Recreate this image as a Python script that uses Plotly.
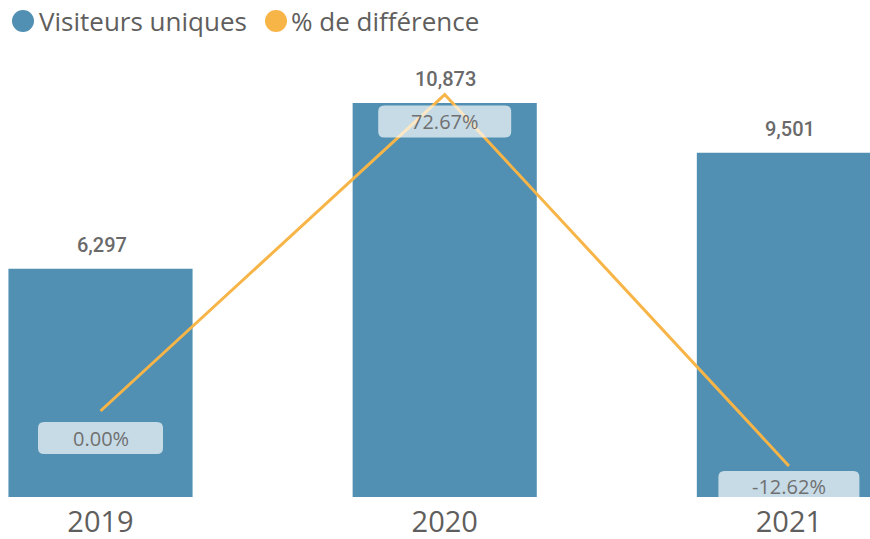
import plotly.graph_objects as go

# Data
years = ["2019", "2020", "2021"]
visitors = [6297, 10873, 9501]
pct_diff = [0.00, 72.67, -12.62]

legend_names = ["Visiteurs uniques", "% de différence"]

BAR_COLOR = "#5190b2"
LINE_COLOR = "#f7b548"
TEXT_GRAY = "#6a6a6a"
FONT = "Open Sans"

W, H = 870, 539
PLOT_TOP, PLOT_BOTTOM = 50, 497
PLOT_H = PLOT_BOTTOM - PLOT_TOP
Y_RANGE = [0, 12334]
Y2_RANGE = [-19.75, 82.9]

fig = go.Figure()

fig.add_trace(go.Bar(
    x=years, y=visitors, name=legend_names[0],
    marker=dict(color=BAR_COLOR, line=dict(width=0)),
    width=0.535, showlegend=False, hoverinfo="skip",
))

fig.add_trace(go.Scatter(
    x=years, y=pct_diff, name=legend_names[1], yaxis="y2",
    mode="lines", line=dict(color=LINE_COLOR, width=3),
    showlegend=False, hoverinfo="skip",
))

annotations = []
shapes = []

# Value labels above the bars (category index positions)
for i, v in enumerate(visitors):
    annotations.append(dict(
        x=i, y=v, xref="x", yref="y", text=f"{v:,}",
        showarrow=False, yshift=24, yanchor="middle", xshift=1,
        font=dict(family="Roboto", size=20, color=TEXT_GRAY, weight=500),
    ))


def y2_to_px(val):
    frac = (val - Y2_RANGE[0]) / (Y2_RANGE[1] - Y2_RANGE[0])
    return PLOT_BOTTOM - frac * PLOT_H


# Percentage labels in rounded boxes below the line points,
# kept inside the plot area near the bottom edge
BOX_H, BOX_R, BOX_GAP = 32, 6, 27
for i, p in enumerate(pct_diff):
    label = f"{p:.2f}%"
    w = 85 + 8 * len(label)
    pt_px = y2_to_px(p)
    centre_px = min(pt_px + BOX_GAP, PLOT_BOTTOM - 10)
    cy = -(centre_px - pt_px)
    x0, x1 = -w / 2, w / 2
    y0, y1 = cy - BOX_H / 2, cy + BOX_H / 2
    r = BOX_R
    path = (
        f"M {x0 + r},{y0} L {x1 - r},{y0} Q {x1},{y0} {x1},{y0 + r} "
        f"L {x1},{y1 - r} Q {x1},{y1} {x1 - r},{y1} "
        f"L {x0 + r},{y1} Q {x0},{y1} {x0},{y1 - r} "
        f"L {x0},{y0 + r} Q {x0},{y0} {x0 + r},{y0} Z"
    )
    shapes.append(dict(
        type="path", xref="x", yref="y2",
        xsizemode="pixel", ysizemode="pixel",
        xanchor=i, yanchor=p, path=path,
        fillcolor="rgba(255,255,255,0.68)", line=dict(width=0),
        layer="above",
    ))
    annotations.append(dict(
        x=i, y=p, xref="x", yref="y2", text=label,
        showarrow=False, yshift=cy, yanchor="middle",
        font=dict(family=FONT, size=20, color="#707070"),
    ))

# Legend drawn as circles + text across the top
legend_items = [
    (legend_names[0], BAR_COLOR, 23, 37),
    (legend_names[1], LINE_COLOR, 276, 289),
]
legend_py = 21
legend_y = (PLOT_BOTTOM - legend_py) / PLOT_H
for name, color, cx, tx in legend_items:
    shapes.append(dict(
        type="circle", xref="paper", yref="paper",
        xsizemode="pixel", ysizemode="pixel",
        xanchor=cx / W, yanchor=legend_y,
        x0=-11, x1=11, y0=-11, y1=11,
        fillcolor=color, line=dict(width=0),
    ))
    annotations.append(dict(
        x=tx / W, y=legend_y, xref="paper", yref="paper",
        text=name, showarrow=False, xanchor="left", yanchor="middle",
        font=dict(family=FONT, size=26, color="#605e5c"),
    ))

fig.update_layout(
    width=W, height=H,
    margin=dict(l=0, r=0, t=PLOT_TOP, b=H - PLOT_BOTTOM),
    paper_bgcolor="white", plot_bgcolor="white",
    showlegend=False,
    xaxis=dict(
        type="category", range=[-0.292, 2.2356], automargin=False,
        showgrid=False, zeroline=False, showline=False, ticks="",
        ticklabelstandoff=5,
        tickfont=dict(family=FONT, size=29, color="#605e5c"),
    ),
    yaxis=dict(
        range=Y_RANGE, visible=False, showgrid=False, zeroline=False,
    ),
    yaxis2=dict(
        range=Y2_RANGE, overlaying="y", visible=False,
        showgrid=False, zeroline=False,
    ),
    annotations=annotations,
    shapes=shapes,
)

fig.write_html("out.html")
